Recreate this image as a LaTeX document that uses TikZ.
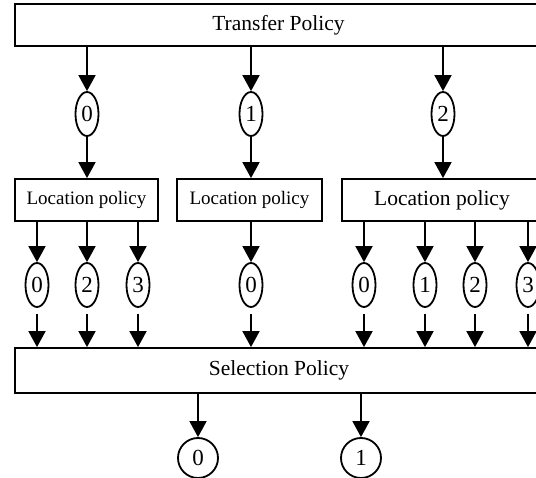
\documentclass[tikz,border=0pt]{standalone}
\usepackage{fontspec}
\setmainfont{Liberation Serif}
\usepackage{tikz}
\usetikzlibrary{shapes.geometric}
\usetikzlibrary{arrows.meta}

\begin{document}
\begin{tikzpicture}[
        x=1pt, y=-1pt,
        line width=1.8pt,
        policy/.style={draw, rectangle, inner sep=0pt, minimum height=42pt, font=\fontsize{21.5}{24}\selectfont},
        smallpolicy/.style={policy, font=\fontsize{19}{22}\selectfont},
        choice/.style={draw, ellipse, inner sep=0pt, minimum width=23pt, minimum height=44pt, font=\fontsize{23}{26}\selectfont},
        result/.style={draw, circle, inner sep=0pt, minimum size=40pt, font=\fontsize{23}{26}\selectfont},
        arr/.style={-{Triangle[length=16pt,width=17pt]}}]

        \useasboundingbox (0,0) rectangle (536,478);
        \clip (0,0) rectangle (536,478);

        \node[policy, minimum width=527pt] (TP) at (278.5,25) {Transfer Policy};

        \node[choice] (T0) at (87,114) {0};
        \node[choice] (T1) at (251,114) {1};
        \node[choice] (T2) at (443,114) {2};

        \node[smallpolicy, minimum width=143pt] (LA) at (86.5,200) {Location policy};
        \node[smallpolicy, minimum width=145pt] (LB) at (249.5,200) {Location policy};
        \node[policy, minimum width=200pt] (LC) at (442,200) {Location policy};

        \node[choice] (A0) at (37,285) {0};
        \node[choice] (A2) at (87,285) {2};
        \node[choice] (A3) at (138,285) {3};
        \node[choice] (B0) at (251,285) {0};
        \node[choice] (C0) at (364,285) {0};
        \node[choice] (C1) at (425,285) {1};
        \node[choice] (C2) at (475,285) {2};
        \node[choice] (C3) at (528,285) {3};

        \node[policy, minimum width=528pt, minimum height=45pt] (SP) at (279,370.5) {Selection Policy};

        \node[result] (S0) at (198,458) {0};
        \node[result] (S1) at (361,458) {1};

        \foreach \t/\l in {T0/LA, T1/LB, T2/LC} {
            \draw[arr] (\t |- TP.south) -- (\t.north);
            \draw[arr] (\t.south) -- (\t |- \l.north);
        }

        \foreach \c/\l in {A0/LA, A2/LA, A3/LA, B0/LB, C0/LC, C1/LC, C2/LC, C3/LC} {
            \draw[arr] (\c |- \l.south) -- (\c.north);
            \draw[arr, shorten <=6pt] (\c.south) -- (\c |- SP.north);
        }

        \draw[arr] (S0 |- SP.south) -- (S0.north);
        \draw[arr] (S1 |- SP.south) -- (S1.north);

    \end{tikzpicture}
\end{document}
